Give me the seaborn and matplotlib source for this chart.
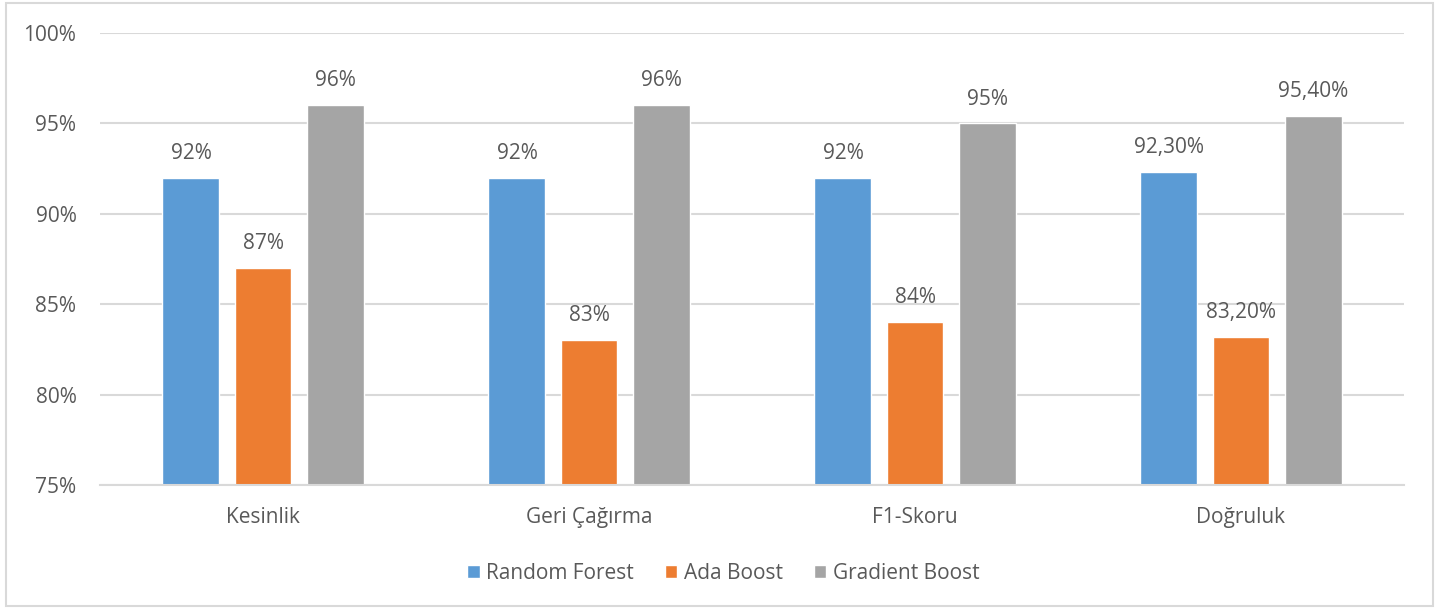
import matplotlib
matplotlib.use("Agg")
import matplotlib.pyplot as plt
from matplotlib.patches import Rectangle
import seaborn as sns
import pandas as pd

metrics = ["Kesinlik", "Geri Çağırma", "F1-Skoru", "Doğruluk"]
models = ["Random Forest", "Ada Boost", "Gradient Boost"]
random_forest = [92, 92, 92, 92.3]
ada_boost = [87, 83, 84, 83.2]
gradient_boost = [96, 96, 95, 95.4]
yticks = [75, 80, 85, 90, 95, 100]

colors = ["#5B9BD5", "#ED7D31", "#A5A5A5"]
text_color = "#595959"
fs = 15

sns.set_theme(style="white")
plt.rcParams["font.family"] = ["Open Sans", "DejaVu Sans"]

df = pd.DataFrame({
    "metric": metrics * 3,
    "model": [m for m in models for _ in metrics],
    "value": random_forest + ada_boost + gradient_boost,
})

fig = plt.figure(figsize=(14.4, 6.08), dpi=100)
ax = fig.add_axes([100 / 1440, 1 - 485 / 608, 1304 / 1440, 452 / 608])

sns.barplot(data=df, x="metric", y="value", hue="model", order=metrics,
            hue_order=models, palette=colors, width=0.663, gap=0.21,
            saturation=1, ax=ax, legend=True)

ax.set_ylim(75, 100)
ax.set_xlim(-0.5, len(metrics) - 0.5)
ax.set_yticks(yticks)
ax.set_yticklabels([f"{t}%" for t in yticks])
ax.yaxis.grid(True, color="#D9D9D9", linewidth=1.5)
ax.set_axisbelow(True)
for s in ["top", "right", "left"]:
    ax.spines[s].set_visible(False)
ax.spines["bottom"].set_color("#D9D9D9")
ax.spines["bottom"].set_linewidth(1.5)
ax.tick_params(axis="both", length=0, labelsize=fs, colors=text_color)
ax.tick_params(axis="y", pad=17)
ax.tick_params(axis="x", pad=16)
ax.set_xlabel("")
ax.set_ylabel("")


def fmt(v):
    if float(v).is_integer():
        return f"{int(v)}%"
    return f"{v:.2f}".replace(".", ",") + "%"


for container in ax.containers:
    ax.bar_label(container, labels=[fmt(b.get_height()) for b in container],
                 padding=10, fontsize=fs, color=text_color)

handles, labels = ax.get_legend_handles_labels()
ax.legend(handles, labels, loc="center", bbox_to_anchor=(0.478, -0.195),
          ncol=3, frameon=False, fontsize=fs, labelcolor=text_color,
          handlelength=0.6, handleheight=0.6, handletextpad=0.3,
          columnspacing=1.5)

fig.patches.append(Rectangle((6 / 1440, 2 / 608), 1427 / 1440, 603 / 608,
                             transform=fig.transFigure, fill=False,
                             edgecolor="#D9D9D9", linewidth=1.5))

fig.savefig("out.png", dpi=100, facecolor="white")
